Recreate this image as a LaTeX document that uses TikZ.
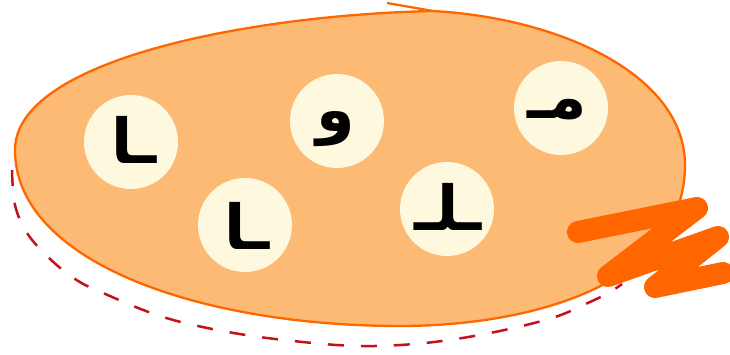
\documentclass[tikz,border=0pt]{standalone}
\usepackage{fontspec}
\newfontfamily\arabicfont[Script=Arabic]{DejaVu Sans}
\TeXXeTstate=1
\definecolor{blobfill}{HTML}{FDBA74}
\definecolor{blobline}{HTML}{FF6600}
\definecolor{cream}{HTML}{FEF8DF}
\definecolor{dashred}{HTML}{C4111B}
\tikzset{
  blob/.style={fill=blobfill, draw=blobline, line width=2.3pt, line join=round},
  trail/.style={draw=dashred, line width=2.5pt, dash pattern=on 16pt off 17pt},
  disc/.style={circle, fill=cream, minimum size=94pt, inner sep=0pt},
  glyph/.style={anchor=base, inner sep=0pt,
    font=\arabicfont\bfseries\fontsize{62}{62}\selectfont},
  scribble/.style={draw=blobline, line width=22pt, line cap=round, line join=round}
}
\begin{document}
\begin{tikzpicture}[x=1pt,y=-1pt]
\useasboundingbox (0,0) rectangle (730,355);
\filldraw[blob] (387,3) -- (433,11)
  .. controls (560,18) and (685,75) .. (685,165)
  .. controls (685,285) and (530,326) .. (400,326)
  .. controls (200,326) and (15,262) .. (15,150)
  .. controls (15,60) and (250,15) .. (433,11);
\draw[trail] plot[smooth, tension=0.6] coordinates {
  (12,170) (15,205) (27,233) (49,258) (75,279) (103,293) (163,317)
  (228,332) (293,341) (360,346) (425,343) (490,333) (552,318) (590,302)
  (610,292) (622,284)};
\node[disc] (c1) at (131,142) {};
\node[disc] (c2) at (337,121) {};
\node[disc] (c3) at (561,108) {};
\node[disc] (c4) at (245,225) {};
\node[disc] (c5) at (447,209) {};
\node[glyph] (t1) at (134,164) {\beginR ـا\endR};
\node[glyph] (t2) at (336,132) {\beginR و\endR};
\node[glyph] (t3) at (557,119) {\beginR مـ\endR};
\node[glyph] (t4) at (247,250) {\beginR ـا\endR};
\node[glyph] (t5) at (448,231) {\beginR ـلـ\endR};
\coordinate (z1) at (578,232);
\coordinate (z2) at (697,208);
\coordinate (z3) at (608,276);
\coordinate (z4) at (718,237);
\coordinate (z5) at (655,287);
\coordinate (z6) at (723,273);
\draw[scribble] (z1) -- (z2) -- (z3) -- (z4) -- (z5) -- (z6);
\end{tikzpicture}
\end{document}
